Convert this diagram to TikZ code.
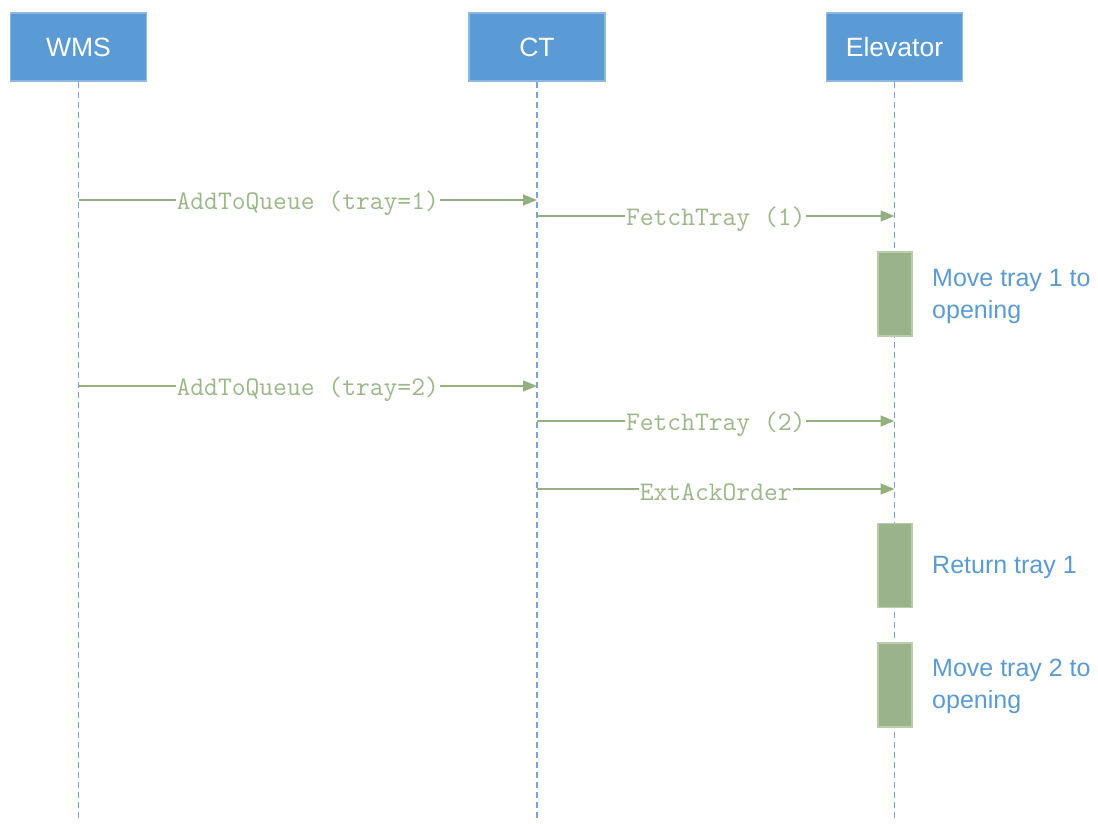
\documentclass[tikz,border=0pt]{standalone}
\usepackage{fontspec}
\setmainfont{Liberation Sans}
\usetikzlibrary{arrows.meta}
\definecolor{hdrblue}{HTML}{5B9BD5}
\definecolor{hdredge}{HTML}{8DB8E4}
\definecolor{lifeblue}{HTML}{7FA3D6}
\definecolor{msggreen}{HTML}{94B07F}
\definecolor{msgtext}{HTML}{9CB78A}
\definecolor{barfill}{HTML}{9AB38A}
\definecolor{baredge}{HTML}{B9CDAB}
\definecolor{notetext}{HTML}{5B9BD5}
\begin{document}
\begin{tikzpicture}[x=1pt,y=-1pt,
  header/.style={rectangle,fill=hdrblue,draw=hdredge,line width=1.2pt,
    minimum width=136pt,minimum height=68pt,inner sep=0pt,text=white,
    font=\fontsize{26.5}{30}\selectfont},
  lifeline/.style={draw=lifeblue,line width=1.4pt,dash pattern=on 6pt off 4pt},
  message/.style={draw=msggreen,line width=1.4pt,
    -{Triangle[length=14pt,width=11pt]}},
  msglabel/.style={fill=white,text=msgtext,inner xsep=1pt,inner ysep=1pt,
    yshift=-3pt,font=\ttfamily\fontsize{26.8}{28}\selectfont},
  actbar/.style={rectangle,fill=barfill,draw=baredge,line width=1.2pt,
    minimum width=34pt,minimum height=84pt,inner sep=0pt},
  note/.style={anchor=west,align=left,text=notetext,inner sep=0pt,
    font=\fontsize{25}{32}\selectfont}]
\useasboundingbox (0,0) rectangle (1098,824);

% participants
\node[header] (wms)  at (78.5,47) {WMS};
\node[header] (ct)   at (537,47)  {CT};
\node[header] (elev) at (894.5,47) {Elevator};

% lifeline ends
\coordinate (wmsend)  at (78.5,820);
\coordinate (ctend)   at (537,820);
\coordinate (elevend) at (894.5,820);
\draw[lifeline] (wms.south)  -- (wmsend);
\draw[lifeline] (ct.south)   -- (ctend);
\draw[lifeline] (elev.south) -- (elevend);

% activation bars on the elevator lifeline
\node[actbar] (bar1) at (895,294) {};
\node[actbar] (bar2) at (895,565.5) {};
\node[actbar] (bar3) at (895,685) {};

% message anchor points on the lifelines
\coordinate (w1) at (78.5,200);  \coordinate (c1) at (537,200);
\coordinate (c2) at (537,216);   \coordinate (e2) at (894.5,216);
\coordinate (w4) at (78.5,386);  \coordinate (c4) at (537,386);
\coordinate (c5) at (537,421);   \coordinate (e5) at (894.5,421);
\coordinate (c6) at (537,489);   \coordinate (e6) at (894.5,489);

% messages
\draw[message] (w1) -- node[msglabel] (m1) {AddToQueue (tray=1)} (c1);
\draw[message] (c2) -- node[msglabel] (m2) {FetchTray (1)} (e2);
\draw[message] (w4) -- node[msglabel] (m4) {AddToQueue (tray=2)} (c4);
\draw[message] (c5) -- node[msglabel] (m5) {FetchTray (2)} (e5);
\draw[message] (c6) -- node[msglabel] (m6) {ExtAckOrder} (e6);

% activity notes
\node[note] (n1) at (932,296) {Move tray 1 to\\opening};
\node[note] (n2) at (932,567) {Return tray 1};
\node[note] (n3) at (932,686) {Move tray 2 to\\opening};
\end{tikzpicture}
\end{document}
